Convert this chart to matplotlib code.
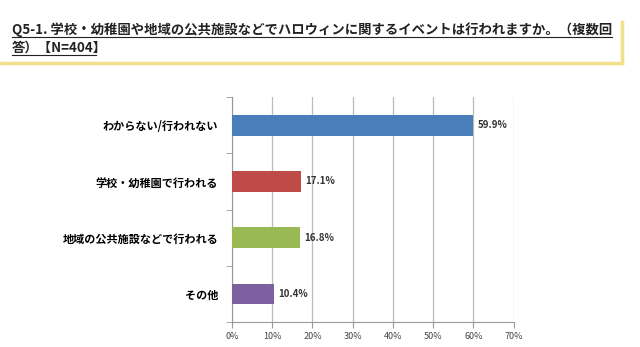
import matplotlib.pyplot as plt
from matplotlib.lines import Line2D
from matplotlib.ticker import FixedLocator

plt.rcParams['font.family'] = ['Noto Sans CJK JP', 'DejaVu Sans']

# データ
categories = ['わからない/行われない', '学校・幼稚園で行われる', '地域の公共施設などで行われる', 'その他']
values = [59.9, 17.1, 16.8, 10.4]
colors = ['#4a7ebb', '#be4b48', '#98b954', '#7d60a0']
xticks = [0, 10, 20, 30, 40, 50, 60, 70]

fig = plt.figure(figsize=(6.4, 3.47), dpi=100)

# タイトル
fig.text(0.019, 0.902, 'Q5-1. 学校・幼稚園や地域の公共施設などでハロウィンに関するイベントは行われますか。（複数回',
         fontsize=9.6, fontweight='bold', color='#222222', va='baseline')
fig.text(0.019, 0.852, '答）【N=404】', fontsize=9.6, fontweight='bold', color='#222222', va='baseline')
fig.add_artist(Line2D([0.019, 0.956], [0.892, 0.892], color='#222222', lw=0.8))
fig.add_artist(Line2D([0.019, 0.15], [0.842, 0.842], color='#222222', lw=0.8))
# 黄色の影
fig.add_artist(Line2D([0.0, 0.972], [0.818, 0.818], color='#f3e08a', lw=2.5))
fig.add_artist(Line2D([0.972, 0.972], [0.818, 0.937], color='#f3e08a', lw=2.5))

ax = fig.add_axes([0.3625, 0.072, 0.44, 0.648])
y = list(range(len(categories)))
ax.barh(y, values, height=0.37, color=colors, zorder=3)
for yi, v in zip(y, values):
    ax.text(v + 1.2, yi, f'{v}%', va='center', ha='left', fontsize=7, fontweight='bold', color='#333333')

ax.set_xlim(0, 70)
ax.set_ylim(len(categories) - 0.5, -0.5)
ax.set_xticks(xticks)
ax.set_xticklabels([f'{t}%' for t in xticks], fontsize=6.5, color='#444444')
ax.set_yticks(y)
ax.set_yticklabels(categories, fontsize=8, fontweight='bold')
ax.yaxis.set_minor_locator(FixedLocator([-0.5, 0.5, 1.5, 2.5, 3.5]))
ax.tick_params(axis='y', which='major', length=0, pad=10)
ax.tick_params(axis='y', which='minor', length=4, color='#999999')
ax.tick_params(axis='x', length=4, color='#999999')
ax.grid(axis='x', color='#bbbbbb', lw=0.9, zorder=0)
for s in ['top', 'right']:
    ax.spines[s].set_visible(False)
ax.spines['left'].set_color('#999999')
ax.spines['bottom'].set_color('#999999')

fig.savefig('out.png', dpi=100)
